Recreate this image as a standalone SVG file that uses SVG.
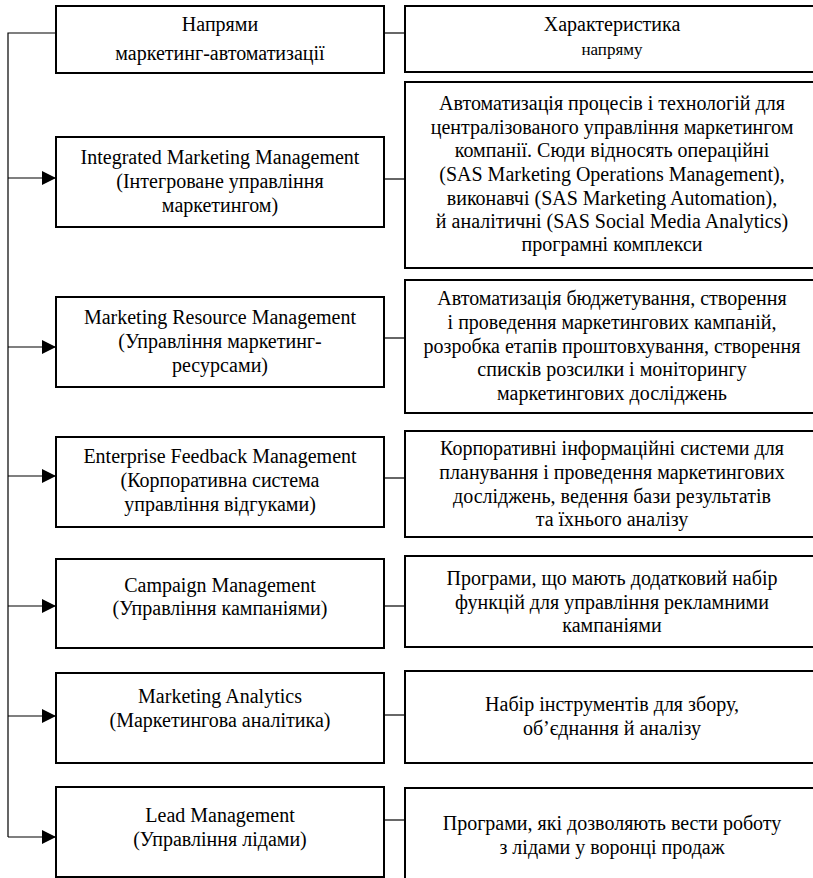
<svg xmlns="http://www.w3.org/2000/svg" width="813" height="878" viewBox="0 0 813 878">
<style>
.box{fill:#fff;stroke:#000;stroke-width:2}
.ln{fill:none;stroke:#000;stroke-width:1.2}
text{font-family:"Liberation Serif","Times New Roman",serif;font-size:20px;fill:#000;text-anchor:middle}
.sm{font-size:17px}
</style>
<defs>
<marker id="arr" viewBox="0 0 14 14" refX="14" refY="7" markerWidth="14" markerHeight="14" markerUnits="userSpaceOnUse" orient="auto">
<path d="M0,0 L14,7 L0,14 Z" fill="#000"/>
</marker>
</defs>
<g id="connectors">
<path class="ln" d="M56,33 H8 V837"/>
<path class="ln" d="M8,178 H56" marker-end="url(#arr)"/>
<path class="ln" d="M8,347 H56" marker-end="url(#arr)"/>
<path class="ln" d="M8,476 H56" marker-end="url(#arr)"/>
<path class="ln" d="M8,606 H56" marker-end="url(#arr)"/>
<path class="ln" d="M8,716 H56" marker-end="url(#arr)"/>
<path class="ln" d="M8,837 H56" marker-end="url(#arr)"/>
<path class="ln" d="M384,33 H405"/>
<path class="ln" d="M384,179 H405"/>
<path class="ln" d="M384,338 H405"/>
<path class="ln" d="M384,478 H405"/>
<path class="ln" d="M384,606 H405"/>
<path class="ln" d="M384,715 H405"/>
<path class="ln" d="M384,820 H405"/>
</g>
<g id="head-left">
<rect class="box" x="56" y="6" width="328" height="67"/>
<text x="220" y="31">Напрями</text>
<text x="220" y="60">маркетинг-автоматизації</text>
</g>
<g id="head-right">
<rect class="box" x="405" y="6" width="415" height="66"/>
<text x="612" y="31">Характеристика</text>
<text class="sm" x="612" y="55">напряму</text>
</g>
<g id="imm">
<rect class="box" x="56" y="137" width="328" height="90"/>
<text x="220" y="164">Integrated Marketing Management</text>
<text x="220" y="188">(Інтегроване управління</text>
<text x="220" y="212">маркетингом)</text>
</g>
<g id="imm-desc">
<rect class="box" x="405" y="82" width="415" height="186"/>
<text x="612" y="110">Автоматизація процесів і технологій для</text>
<text x="612" y="134">централізованого управління маркетингом</text>
<text x="612" y="157">компанії. Сюди відносять операційні</text>
<text x="612" y="181">(SAS Marketing Operations Management),</text>
<text x="612" y="205">виконавчі (SAS Marketing Automation),</text>
<text x="612" y="228">й аналітичні (SAS Social Media Analytics)</text>
<text x="612" y="251">програмні комплекси</text>
</g>
<g id="mrm">
<rect class="box" x="56" y="297" width="328" height="90"/>
<text x="220" y="324">Marketing Resource Management</text>
<text x="220" y="348">(Управління маркетинг-</text>
<text x="220" y="372">ресурсами)</text>
</g>
<g id="mrm-desc">
<rect class="box" x="405" y="280" width="415" height="133"/>
<text x="612" y="305">Автоматизація бюджетування, створення</text>
<text x="612" y="329">і проведення маркетингових кампаній,</text>
<text x="612" y="353">розробка етапів проштовхування, створення</text>
<text x="612" y="376">списків розсилки і моніторингу</text>
<text x="612" y="400">маркетингових досліджень</text>
</g>
<g id="efm">
<rect class="box" x="56" y="437" width="328" height="90"/>
<text x="220" y="463">Enterprise Feedback Management</text>
<text x="220" y="487">(Корпоративна система</text>
<text x="220" y="511">управління відгуками)</text>
</g>
<g id="efm-desc">
<rect class="box" x="405" y="431" width="415" height="106"/>
<text x="612" y="455">Корпоративні інформаційні системи для</text>
<text x="612" y="479">планування і проведення маркетингових</text>
<text x="612" y="503">досліджень, ведення бази результатів</text>
<text x="612" y="526">та їхнього аналізу</text>
</g>
<g id="cm">
<rect class="box" x="56" y="559" width="328" height="89"/>
<text x="220" y="592">Campaign Management</text>
<text x="220" y="615">(Управління кампаніями)</text>
</g>
<g id="cm-desc">
<rect class="box" x="405" y="556" width="415" height="91"/>
<text x="612" y="585">Програми, що мають додатковий набір</text>
<text x="612" y="609">функцій для управління рекламними</text>
<text x="612" y="632">кампаніями</text>
</g>
<g id="ma">
<rect class="box" x="56" y="673" width="328" height="90"/>
<text x="220" y="703">Marketing Analytics</text>
<text x="220" y="727">(Маркетингова аналітика)</text>
</g>
<g id="ma-desc">
<rect class="box" x="405" y="671" width="415" height="92"/>
<text x="612" y="711">Набір інструментів для збору,</text>
<text x="612" y="735">об’єднання й аналізу</text>
</g>
<g id="lm">
<rect class="box" x="56" y="787" width="328" height="90"/>
<text x="220" y="822">Lead Management</text>
<text x="220" y="846">(Управління лідами)</text>
</g>
<g id="lm-desc">
<rect class="box" x="405" y="788" width="415" height="100"/>
<text x="612" y="830">Програми, які дозволяють вести роботу</text>
<text x="612" y="854">з лідами у воронці продаж</text>
</g>
</svg>
